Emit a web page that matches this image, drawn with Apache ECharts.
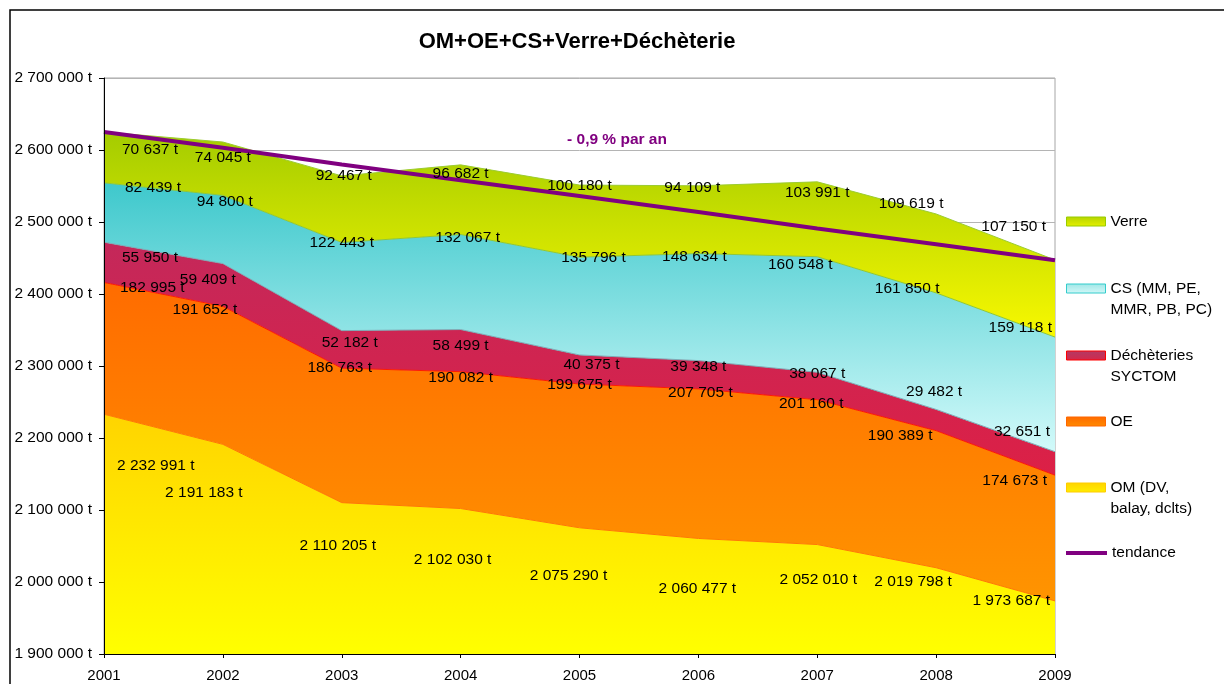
<!DOCTYPE html>
<html>
<head>
<meta charset="utf-8">
<title>OM+OE+CS+Verre+Déchèterie</title>
<script src="https://cdn.jsdelivr.net/npm/echarts/dist/echarts.min.js"></script>
<style>
	html, body { margin: 0; padding: 0; background: #fff; }
	#main { width: 1224px; height: 684px; }
</style>
</head>
<body>
<div id="main"></div>
<script>
	//données (tonnes)
	var annees = ['2001', '2002', '2003', '2004', '2005', '2006', '2007', '2008', '2009'];
	var om = [2232991, 2191183, 2110205, 2102030, 2075290, 2060477, 2052010, 2019798, 1973687];
	var oe = [182995, 191652, 186763, 190082, 199675, 207705, 201160, 190389, 174673];
	var decheteries = [55950, 59409, 52182, 58499, 40375, 39348, 38067, 29482, 32651];
	var cs = [82439, 94800, 122443, 132067, 135796, 148634, 160548, 161850, 159118];
	var verre = [70637, 74045, 92467, 96682, 100180, 94109, 103991, 109619, 107150];
	var tendance = [2625000, 2603000, 2580000, 2558000, 2536000, 2514000, 2491000, 2469000, 2447000];

	//décalage des étiquettes [dx, dy] par rapport au point
	var decalOm = [[13, 51], [-19, 48], [-4, 43], [-8, 51], [-11, 48], [-1, 50], [1, 35], [-23, 14], [-5, 0]];
	var decalOe = [[16, 5], [-18, 3], [-2, 0], [0, 6], [0, 1], [2, 4], [-6, 4], [-36, 5], [-8, 6]];
	var decalDech = [[18, 16], [-15, 16], [8, 12], [0, 16], [12, 10], [0, 6], [0, 1], [-2, -18], [-5, -20]];
	var decalCs = [[21, 5], [2, 6], [0, 0], [7, 3], [14, 1], [-4, 3], [-17, 8], [-29, -4], [-3, -9]];
	var decalVerre = [[18, 18], [0, 16], [2, 0], [0, 9], [0, 1], [-6, 2], [0, 11], [-25, -10], [-9, -33]];

	var police = "'Liberation Sans', Arial, sans-serif";

	function formatTonnes (v) {
		return String(v).replace(/\B(?=(\d{3})+(?!\d))/g, ' ') + ' t';
	}

	function degrade (c1, c2) {
		return new echarts.graphic.LinearGradient(0, 0, 0, 1, [
			{ offset: 0, color: c1 },
			{ offset: 1, color: c2 }
		]);
	}

	//série de surface (sans étiquette)
	function surface (nom, valeurs, trait, c1, c2) {
		return {
			name: nom,
			type: 'line',
			stack: 'total',
			symbol: 'none',
			data: valeurs,
			lineStyle: { color: trait, width: 1 },
			itemStyle: { color: trait },
			areaStyle: { color: degrade(c1, c2), opacity: 1 },
			z: 2
		};
	}

	//série invisible qui porte les étiquettes, au-dessus des surfaces
	function etiquettes (nom, valeurs, decal) {
		var donnees = valeurs.map(function (v, i) {
			var align = 'center';
			if (i == 0) align = 'left';
			if (i == valeurs.length - 1) align = 'right';
			return { value: v, label: { align: align, offset: decal[i] } };
		});
		return {
			name: nom + ' etiq',
			type: 'line',
			stack: 'etiq',
			symbol: 'circle',
			symbolSize: 1,
			itemStyle: { color: 'rgba(0,0,0,0)' },
			lineStyle: { width: 0, opacity: 0 },
			data: donnees,
			z: 10,
			label: {
				show: true,
				position: 'inside',
				verticalAlign: 'middle',
				color: '#000',
				fontFamily: police,
				fontSize: 15.5,
				formatter: function (p) { return formatTonnes(p.value); }
			}
		};
	}

	//une légende par élément pour placer chaque ligne
	function legende (nom, haut, style, multi) {
		var item = { name: nom, icon: 'rect', itemStyle: style };
		var estTendance = (nom == 'tendance');
		return {
			orient: 'vertical',
			left: estTendance ? 1066 : 1066,
			top: haut,
			padding: 0,
			itemWidth: estTendance ? 41 : 39,
			itemHeight: estTendance ? 4 : 9,
			selectedMode: false,
			data: [item],
			//ligne vide en tête : l'icône reste en face de la première ligne
			formatter: multi ? '\n{name}' : '{name}',
			textStyle: {
				color: '#000',
				fontFamily: police,
				fontSize: 15.5,
				lineHeight: 21
			}
		};
	}

	var axeY = {
		type: 'value',
		min: 1900000,
		max: 2700000,
		interval: 100000
	};

	var myChart = echarts.init(document.getElementById('main'));
	var option = {
		animation: false,
		backgroundColor: '#fff',
		grid: {
			left: 104,
			right: 169,
			top: 78,
			bottom: 30,
			show: true,
			borderColor: '#a6a6a6',
			borderWidth: 1,
			backgroundColor: 'transparent'
		},
		legend: [
			legende('Verre', 211, { color: degrade('#b4d400', '#e6f000'), borderColor: '#99cc00', borderWidth: 1 }, false),
			legende('CS (MM, PE,\nMMR, PB, PC)', 257, { color: degrade('#9ee6e6', '#d4f8f8'), borderColor: '#33cccc', borderWidth: 1 }, true),
			legende('Déchèteries\nSYCTOM', 324, { color: degrade('#b23a66', '#d4284a'), borderColor: '#ff0000', borderWidth: 1 }, true),
			legende('OE', 411, { color: degrade('#ff6a00', '#ff8a00'), borderColor: '#ff6600', borderWidth: 1 }, false),
			legende('OM (DV,\nbalay, dclts)', 456, { color: degrade('#ffd400', '#ffee00'), borderColor: '#ffcc00', borderWidth: 1 }, true),
			legende('tendance', 542.5, { color: '#800080', borderWidth: 0 }, false)
		],
		xAxis: {
			type: 'category',
			boundaryGap: false,
			data: annees,
			z: 20,
			axisLine: { lineStyle: { color: '#000', width: 1 } },
			axisTick: { show: true, length: 4, lineStyle: { color: '#000' } },
			axisLabel: { color: '#000', fontFamily: police, fontSize: 15, margin: 14 },
			splitLine: { show: false }
		},
		yAxis: [
			Object.assign({}, axeY, {
				axisLine: { show: false },
				axisTick: { show: true, length: 5, lineStyle: { color: '#000' } },
				axisLabel: {
					color: '#000',
					fontFamily: police,
					fontSize: 15.5,
					margin: 12,
					formatter: function (v) { return formatTonnes(v); }
				},
				splitLine: { show: true, lineStyle: { color: '#b4b4b4', width: 1 } }
			}),
			//second axe, seulement pour le trait noir au-dessus des surfaces
			Object.assign({}, axeY, {
				position: 'left',
				z: 20,
				axisLine: { show: true, onZero: false, lineStyle: { color: '#000', width: 1 } },
				axisTick: { show: false },
				axisLabel: { show: false },
				splitLine: { show: false }
			})
		],
		series: [
			surface('OM (DV,\nbalay, dclts)', om, '#ff7a00', '#ffd400', '#ffff00'),
			surface('OE', oe, '#ff1a00', '#ff6c00', '#ff9400'),
			surface('Déchèteries\nSYCTOM', decheteries, '#7fa9b4', '#c4285a', '#dc2046'),
			surface('CS (MM, PE,\nMMR, PB, PC)', cs, '#8cc63c', '#3ec8cc', '#d2fafa'),
			surface('Verre', verre, '#9ccc30', '#a4cc00', '#f8f800'),
			{
				name: 'tendance',
				type: 'line',
				symbol: 'none',
				data: tendance,
				lineStyle: { color: '#800080', width: 4 },
				itemStyle: { color: '#800080' },
				z: 5
			},
			etiquettes('OM', om, decalOm),
			etiquettes('OE', oe, decalOe),
			etiquettes('Dech', decheteries, decalDech),
			etiquettes('CS', cs, decalCs),
			etiquettes('Verre', verre, decalVerre)
		],
		graphic: [
			{
				type: 'rect',
				shape: { x: 10, y: 10, width: 1240, height: 700 },
				style: { fill: 'none', stroke: '#000', lineWidth: 1.5 },
				silent: true
			},
			{
				type: 'text',
				x: 577,
				y: 42,
				style: {
					text: 'OM+OE+CS+Verre+Déchèterie',
					fill: '#000',
					font: 'bold 22px ' + police,
					textAlign: 'center',
					textVerticalAlign: 'middle'
				}
			},
			{
				type: 'text',
				x: 617,
				y: 140,
				style: {
					text: '- 0,9 % par an',
					fill: '#800080',
					font: 'bold 15.5px ' + police,
					textAlign: 'center',
					textVerticalAlign: 'middle'
				}
			}
		]
	};
	myChart.setOption(option);
</script>
</body>
</html>
